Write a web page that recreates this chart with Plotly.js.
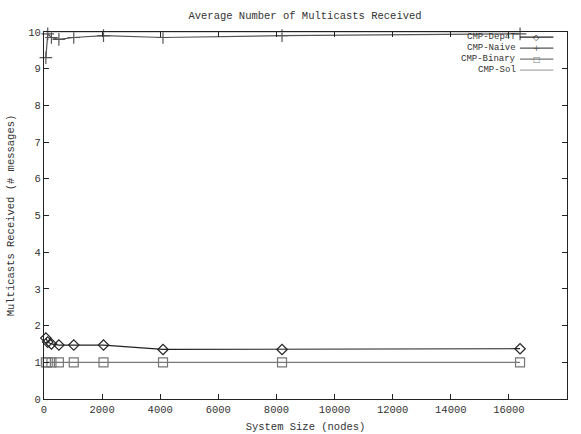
<!DOCTYPE html>
<html>
<head>
<meta charset="utf-8">
<script src="https://cdn.plot.ly/plotly-3.0.1.min.js"></script>
<style>
  html, body { margin: 0; padding: 0; background: #fff; }
  #chart { width: 581px; height: 434px; }
</style>
</head>
<body>
<div id="chart"></div>
<script>
// System sizes (number of nodes) at which each protocol was measured
const systemSizes = [64, 128, 256, 512, 1024, 2048, 4096, 8192, 16384];

// Average multicasts received per node (# messages)
const depthSeries  = [1.66, 1.55, 1.50, 1.47, 1.47, 1.47, 1.35, 1.35, 1.37];
const naiveSeries  = [9.3, 9.95, 9.85, 9.8, 9.85, 9.9, 9.85, 9.9, 9.95];
const binarySeries = [1.0, 1.0, 1.0, 1.0, 1.0, 1.0, 1.0, 1.0, 1.0];
const solSeries    = [10.0, 10.0, 10.0, 10.0, 10.0, 10.0, 10.0, 10.0, 10.0];

const seriesNames = ["CMP-Dep4T", "CMP-Naive", "CMP-Binary", "CMP-Sol"];

const xTicks = [0, 2000, 4000, 6000, 8000, 10000, 12000, 14000, 16000, 18000];
const yTicks = [0, 1, 2, 3, 4, 5, 6, 7, 8, 9, 10];

const mono = "Liberation Mono, DejaVu Sans Mono, monospace";
const ink = "#333";
const fs = 10.5;

// Per-series styling: line colour, marker symbol and the glyph used in the key
const styles = [
  { line: "#222", symbol: "diamond-open",    size: 8,  glyph: "◇" },
  { line: "#555", symbol: "cross-thin-open", size: 9,  glyph: "+" },
  { line: "#777", symbol: "square-open",     size: 9,  glyph: "□" },
  { line: "#aaa", symbol: null,              size: 0,  glyph: "" }
];
const seriesValues = [depthSeries, naiveSeries, binarySeries, solSeries];

const traces = seriesValues.map((vals, i) => {
  const s = styles[i];
  const t = {
    x: systemSizes, y: vals, name: seriesNames[i],
    mode: s.symbol ? "lines+markers" : "lines",
    line: { color: s.line, width: 1.2 },
    cliponaxis: false,
    showlegend: false
  };
  if (s.symbol) t.marker = { symbol: s.symbol, size: s.size, color: s.line, line: { width: 1.2, color: s.line } };
  return t;
});

// gnuplot-style key in the top-right corner: right-aligned label, then a line sample
const keyTextX = 0.905, keyLineX0 = 0.910, keyLineX1 = 0.974;
const keyRowTop = 0.986, keyRowStep = 0.030;
const annotations = [], shapes = [];
seriesNames.forEach((name, i) => {
  const y = keyRowTop - i * keyRowStep;
  annotations.push({
    xref: "paper", yref: "paper", x: keyTextX, y: y,
    xanchor: "right", yanchor: "middle", showarrow: false, borderpad: 0,
    text: name, font: { family: mono, size: 9, color: ink }
  });
  shapes.push({
    type: "line", xref: "paper", yref: "paper",
    x0: keyLineX0, x1: keyLineX1, y0: y, y1: y,
    line: { color: styles[i].line, width: 1.2 }
  });
  if (styles[i].glyph) {
    annotations.push({
      xref: "paper", yref: "paper", x: (keyLineX0 + keyLineX1) / 2, y: y,
      xanchor: "center", yanchor: "middle", showarrow: false, borderpad: 0,
      text: styles[i].glyph,
      font: { family: "DejaVu Sans", size: 8, color: styles[i].line }
    });
  }
});

const axisCommon = {
  showline: true, mirror: "ticks", linecolor: "#222", linewidth: 1,
  ticks: "inside", ticklen: 5, tickcolor: "#222",
  showgrid: false, zeroline: false,
  tickfont: { family: mono, size: fs, color: ink }
};

const layout = {
  width: 581, height: 434,
  margin: { l: 44, r: 14, t: 32, b: 35 },
  paper_bgcolor: "#fff", plot_bgcolor: "#fff",
  font: { family: mono, size: fs, color: ink },
  title: {
    text: "Average Number of Multicasts Received",
    font: { family: mono, size: fs, color: ink },
    x: 0.525, xanchor: "center", y: 0.964, yanchor: "middle"
  },
  xaxis: Object.assign({}, axisCommon, {
    range: [0, 18000], tickvals: xTicks, ticktext: xTicks.map(String),
    title: { text: "System Size (nodes)", font: { family: mono, size: fs, color: ink }, standoff: 8 }
  }),
  yaxis: Object.assign({}, axisCommon, {
    range: [0, 10], tickvals: yTicks, ticktext: yTicks.map(String),
    title: { text: "Multicasts Received (# messages)", font: { family: mono, size: fs, color: ink }, standoff: 11 }
  }),
  showlegend: false,
  annotations: annotations,
  shapes: shapes
};

Plotly.newPlot("chart", traces, layout, { displayModeBar: false, staticPlot: true });
</script>
</body>
</html>
